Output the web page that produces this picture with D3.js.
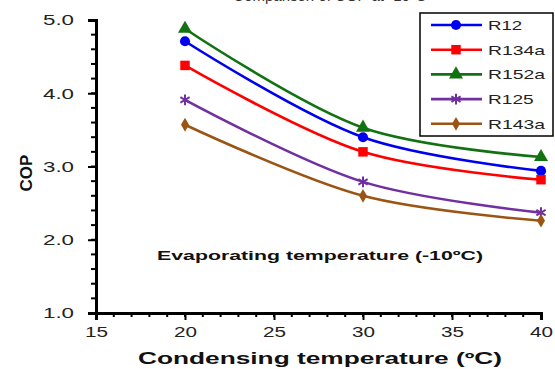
<!DOCTYPE html>
<html>
<head>
<meta charset="utf-8">
<script src="https://cdn.jsdelivr.net/npm/d3@7"></script>
<style>
  body { margin: 0; background: #fff; }
  svg { display: block; font-family: "Liberation Sans", Arial, sans-serif; }
</style>
</head>
<body>
<div id="chart"></div>
<script>
// COP vs condensing temperature, evaporating at -10 C
const temps = [20, 30, 40];
const refrigerants = ["R12", "R134a", "R152a", "R125", "R143a"];
const copR12 = [4.71, 3.40, 2.94];
const copR134a = [4.38, 3.20, 2.82];
const copR152a = [4.88, 3.53, 3.13];
const copR125 = [3.91, 2.79, 2.37];
const copR143a = [3.57, 2.60, 2.26];
const xTicks = [15, 20, 25, 30, 35, 40];
const yTicks = [1.0, 2.0, 3.0, 4.0, 5.0];

const seriesValues = [copR12, copR134a, copR152a, copR125, copR143a];
const colors = ["#0000f0", "#ff0000", "#127212", "#7030a0", "#9a5414"];
const shapes = ["circle", "square", "triangle", "star", "diamond"];

const W = 555, H = 369;
const m = { left: 96, top: 20, right: 14, bottom: 56 };
const x = d3.scaleLinear([15, 40], [m.left, 541]);
const y = d3.scaleLinear([1, 5], [313, m.top]);

const svg = d3.select("#chart").append("svg").attr("width", W).attr("height", H);

// title, mostly above the top edge as in the source image
svg.append("text").attr("x", 330).attr("y", 1).attr("text-anchor", "middle")
  .attr("font-size", 15).attr("fill", "#333").text("Comparison of COP at -10°C");

// minor ticks
const yMinor = d3.range(1, 5.001, 0.2);
svg.append("g").selectAll("line").data(yMinor).join("line")
  .attr("x1", m.left - 5).attr("x2", m.left).attr("y1", d => y(d)).attr("y2", d => y(d))
  .attr("stroke", "#000").attr("stroke-width", 2);
const xMinor = d3.range(15, 40.001, 1);
svg.append("g").selectAll("line").data(xMinor).join("line")
  .attr("x1", d => x(d)).attr("x2", d => x(d)).attr("y1", 313).attr("y2", 317)
  .attr("stroke", "#000").attr("stroke-width", 2);

const yAxis = svg.append("g").attr("transform", `translate(${m.left},0)`)
  .call(d3.axisLeft(y).tickValues(yTicks).tickFormat(d3.format(".1f")).tickSize(8).tickPadding(14));
const xAxis = svg.append("g").attr("transform", "translate(0,313)")
  .call(d3.axisBottom(x).tickValues(xTicks).tickSize(7).tickPadding(6));
[yAxis, xAxis].forEach(a => {
  a.select(".domain").attr("stroke", "#000").attr("stroke-width", 3);
  a.selectAll(".tick line").attr("stroke", "#000").attr("stroke-width", 2);
  a.selectAll("text").attr("font-size", 15).attr("fill", "#222")
    .attr("font-family", "Liberation Sans, Arial, sans-serif");
});
yAxis.selectAll("text").attr("textLength", 31).attr("lengthAdjust", "spacingAndGlyphs");
xAxis.selectAll("text").attr("textLength", 23).attr("lengthAdjust", "spacingAndGlyphs");

// axis titles
svg.append("text").attr("x", 320).attr("y", 364).attr("text-anchor", "middle")
  .attr("font-size", 16).attr("font-weight", "bold").attr("fill", "#111")
  .attr("textLength", 364).attr("lengthAdjust", "spacingAndGlyphs")
  .text("Condensing temperature (ºC)");
svg.append("text").attr("transform", "translate(32,173) rotate(-90)").attr("text-anchor", "middle")
  .attr("font-size", 17).attr("font-weight", "bold").attr("fill", "#111").text("COP");

svg.append("text").attr("x", 157).attr("y", 260)
  .attr("font-size", 13.5).attr("font-weight", "bold").attr("fill", "#111")
  .attr("textLength", 326).attr("lengthAdjust", "spacingAndGlyphs")
  .text("Evaporating temperature (-10ºC)");

const symbolOf = {
  circle: d3.symbol(d3.symbolCircle, 80),
  square: d3.symbol(d3.symbolSquare, 90),
  triangle: d3.symbol(d3.symbolTriangle, 85),
  star: d3.symbol(d3.symbolAsterisk, 80),
  diamond: d3.symbol(d3.symbolDiamond, 55)
};
function drawMarker(g, shape, color, cx, cy) {
  const p = g.append("path").attr("d", symbolOf[shape]())
    .attr("transform", `translate(${cx},${cy})`);
  if (shape === "star") p.attr("fill", "none").attr("stroke", color).attr("stroke-width", 2);
  else p.attr("fill", color);
}

const line = d3.line().x(d => x(d[0])).y(d => y(d[1])).curve(d3.curveCatmullRom.alpha(0.5));
const plot = svg.append("g");
seriesValues.forEach((vals, i) => {
  const pts = temps.map((t, j) => [t, vals[j]]);
  plot.append("path").datum(pts).attr("d", line).attr("fill", "none")
    .attr("stroke", colors[i]).attr("stroke-width", 2.6);
  pts.forEach(p => drawMarker(plot, shapes[i], colors[i], x(p[0]), y(p[1])));
});

// legend
const lg = svg.append("g");
lg.append("rect").attr("x", 420).attr("y", 13).attr("width", 133).attr("height", 123)
  .attr("fill", "#fff").attr("stroke", "#000").attr("stroke-width", 1.5);
refrigerants.forEach((name, i) => {
  const ly = 25 + i * 24.7;
  lg.append("line").attr("x1", 431).attr("x2", 482).attr("y1", ly).attr("y2", ly)
    .attr("stroke", colors[i]).attr("stroke-width", 2.6);
  drawMarker(lg, shapes[i], colors[i], 456, ly);
  lg.append("text").attr("x", 488).attr("y", ly + 5).attr("font-size", 13).attr("fill", "#222")
    .attr("textLength", name.length * 11.4).attr("lengthAdjust", "spacingAndGlyphs").text(name);
});
</script>
</body>
</html>
